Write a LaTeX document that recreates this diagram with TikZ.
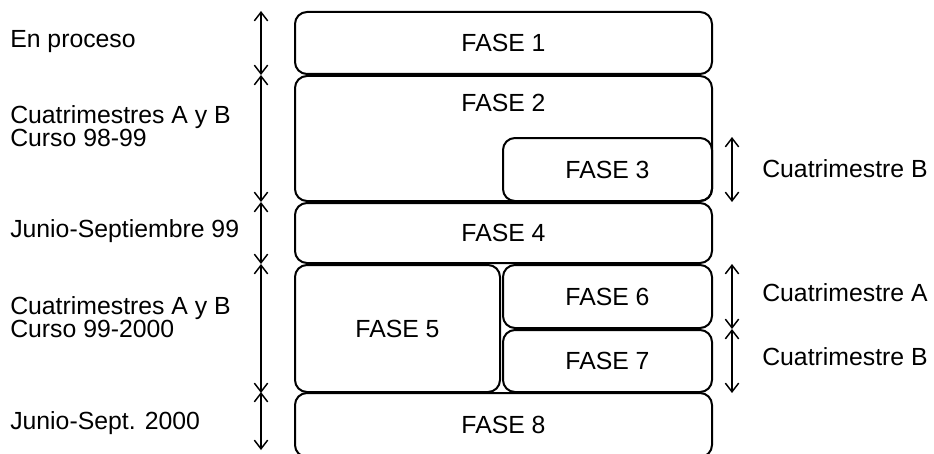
\documentclass[tikz,border=0pt]{standalone}
\usepackage{fontspec}
\setmainfont{Liberation Sans}
\usetikzlibrary{positioning,arrows.meta}

\newcommand\fasefont{\fontsize{18.6}{17}\selectfont}

\begin{document}
\begin{tikzpicture}[
    x=0.75pt, y=-0.75pt,
    fase/.style={
        rectangle,
        draw,
        line width=1.5pt,
        rounded corners=9pt,
        inner sep=0pt,
        font=\fasefont
    },
    span/.style={
        {Straight Barb[length=6.5pt,width=10pt]}-{Straight Barb[length=6.5pt,width=10pt]},
        line width=1.1pt
    },
    periodo/.style={anchor=west, align=left, inner sep=0pt, font=\fasefont}
]

\def\fullW{312.75pt}
\def\leftW{153.75pt}
\def\rightW{156.75pt}
\def\gapL{24.75pt}
\def\gapR{14.25pt}

\useasboundingbox (0,0) rectangle (934,453);
\clip (0,0) rectangle (934,453);

%% ===== FASES =====
\node[fase, minimum width=\fullW, minimum height=46.5pt] (f1) at (503.5,43) {FASE 1};

\node[fase, minimum width=\fullW, minimum height=93.75pt,
      label={[anchor=north, inner sep=0pt, font=\fasefont, yshift=-14pt]north:FASE 2}] (f2)
  at (503.5,138.5) {};

\node[fase, minimum width=\rightW, minimum height=47.25pt] (f3) at (607.5,169.5) {FASE 3};

\node[fase, minimum width=\fullW, minimum height=45pt] (f4) at (503.5,233) {FASE 4};

\node[fase, minimum width=\leftW, minimum height=95.25pt] (f5) at (397.5,328.5) {FASE 5};

\node[fase, minimum width=\rightW, minimum height=47.25pt] (f6) at (607.5,296.5) {FASE 6};

\node[fase, minimum width=\rightW, minimum height=46.5pt] (f7) at (607.5,361) {FASE 7};

\node[fase, minimum width=\fullW, minimum height=48pt] (f8) at (503.5,425) {FASE 8};

%% ===== PERIODOS (izquierda) =====
\coordinate (fin) at ([xshift=-\gapL, yshift=-43.5pt]f8.north west);

\draw[span] ([xshift=-\gapL]f1.north west) -- ([xshift=-\gapL]f1.south west);
\draw[span] ([xshift=-\gapL]f2.north west) -- ([xshift=-\gapL]f2.south west);
\draw[span] ([xshift=-\gapL]f4.north west) -- ([xshift=-\gapL]f4.south west);
\draw[span] ([xshift=-\gapL]f5.north west) -- ([xshift=-\gapL]f5.south west);
\draw[span] ([xshift=-\gapL]f8.north west) -- (fin);

\node[periodo] (p1) at (10,42) {En proceso};
\node[periodo] (p2) at (10,126) {Cuatrimestres A y B\\Curso 98-99};
\node[periodo] (p3) at (10,231) {Junio-Septiembre 99};
\node[periodo] (p4) at (10,317) {Cuatrimestres A y B\\Curso 99-2000};
\node[periodo] (p5) at (10,423) {Junio-Sept. 2000};

%% ===== CUATRIMESTRES (derecha) =====
\draw[span] ([xshift=\gapR]f3.north east) -- ([xshift=\gapR]f3.south east);
\draw[span] ([xshift=\gapR]f6.north east) -- ([xshift=\gapR]f6.south east);
\draw[span] ([xshift=\gapR]f7.north east) -- ([xshift=\gapR]f7.south east);

\node[periodo] (c3) at (762,169) {Cuatrimestre B};
\node[periodo] (c6) at (762,293) {Cuatrimestre A};
\node[periodo] (c7) at (762,357) {Cuatrimestre B};

\end{tikzpicture}
\end{document}
